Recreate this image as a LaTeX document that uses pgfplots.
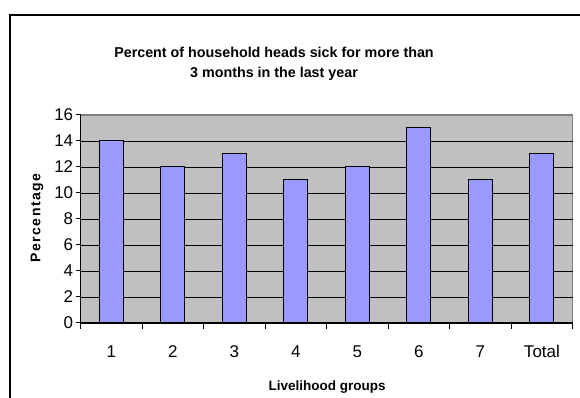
\documentclass[border=0pt]{standalone}
\usepackage{pgfplots}
\pgfplotsset{compat=1.18}
\usepackage{fontspec}
\setmainfont{Liberation Sans}
\newfontfamily\spaced[LetterSpace=11]{Liberation Sans}
\definecolor{barc}{HTML}{9999FF}
\definecolor{bgc}{HTML}{C0C0C0}
\definecolor{brd}{HTML}{808080}
\begin{document}
\begin{tikzpicture}[x=1pt,y=1pt]
\path[use as bounding box] (0,0) rectangle (580,398);
\draw[line width=2.5pt] (10,0) -- (10,383) -- (581,383);
\node[font=\bfseries\fontsize{14.3}{17}\selectfont] at (274,345.5) {Percent of household heads sick for more than};
\node[font=\bfseries\fontsize{14.3}{17}\selectfont] at (274,324.5) {3 months in the last year};
\node[font=\spaced\bfseries\fontsize{14}{17}\selectfont, rotate=90] at (37,180) {Percentage};
\node[font=\bfseries\fontsize{13.5}{16}\selectfont] at (327,11) {Livelihood groups};
\begin{axis}[
  at={(80.7pt,75pt)}, anchor=south west,
  scale only axis, width=492pt, height=208pt,
  xmin=-0.5, xmax=7.5, ymin=0, ymax=16,
  axis x line*=bottom, axis y line*=left,
  axis line style={black, line width=1pt, -},
  axis background/.style={fill=bgc, draw=brd, line width=1.5pt},
  xtick={0,...,7},
  xticklabels={1,2,3,4,5,6,7,Total},
  major x tick style={draw=none},
  minor xtick={-0.5,0.5,...,7.5},
  minor x tick style={black, line width=1pt},
  minor tick length=6pt,
  ytick={0,2,...,14},
  extra y ticks={16},
  extra y tick style={grid=none},
  ymajorgrids, grid style={black, line width=0.9pt},
  y tick style={black, line width=1pt},
  major tick length=5pt,
  tick align=outside,
  ticklabel style={font=\fontsize{17}{19}\selectfont},
  /pgf/number format/assume math mode=true,
  yticklabel style={xshift=1pt},
  xticklabel style={yshift=-14pt},
  ybar, bar width=24pt,
]
\addplot[fill=barc, draw=black, line width=1pt] coordinates {(0,14) (1,12) (2,13) (3,11) (4,12) (5,15) (6,11) (7,13)};
\end{axis}
\end{tikzpicture}
\end{document}
